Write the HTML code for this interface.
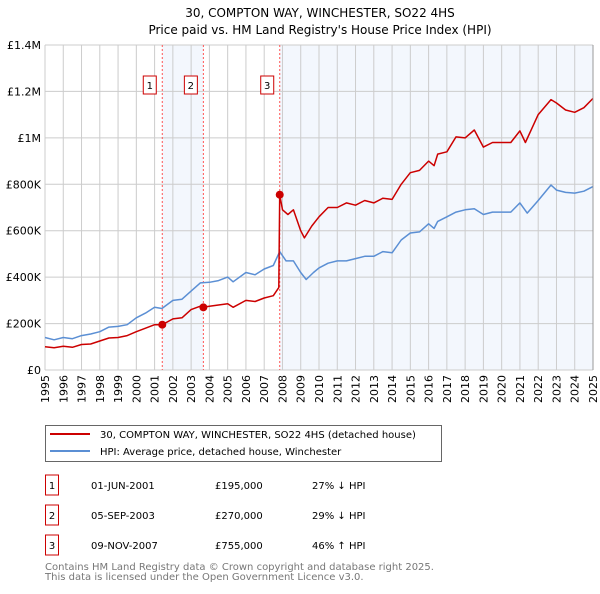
<!DOCTYPE html>
<html><head><meta charset="utf-8"><style>
body{margin:0;background:#fff;font-family:"DejaVu Sans","Liberation Sans",sans-serif;}
svg text{font-family:"DejaVu Sans","Liberation Sans",sans-serif;}
</style></head><body>
<svg id="c" width="600" height="590" xmlns="http://www.w3.org/2000/svg">
<text x="320" y="17" text-anchor="middle" font-size="12" fill="#000">30, COMPTON WAY, WINCHESTER, SO22 4HS</text>
<text x="320" y="34" text-anchor="middle" font-size="12" fill="#000">Price paid vs. HM Land Registry's House Price Index (HPI)</text>
<g id="plot"></g>
<g>
<rect x="45.5" y="425.5" width="396" height="36" fill="#fff" stroke="#666"/>
<line x1="50" y1="434" x2="90" y2="434" stroke="#cc0000" stroke-width="2"/>
<text x="100" y="438" font-size="10">30, COMPTON WAY, WINCHESTER, SO22 4HS (detached house)</text>
<line x1="50" y1="451" x2="90" y2="451" stroke="#5b8fd4" stroke-width="2"/>
<text x="100" y="455" font-size="10">HPI: Average price, detached house, Winchester</text>
</g>
<g id="table" font-size="10"></g>
<text x="45" y="570" font-size="10" fill="#777">Contains HM Land Registry data © Crown copyright and database right 2025.</text>
<text x="45" y="580" font-size="10" fill="#777">This data is licensed under the Open Government Licence v3.0.</text>
</svg>
<script>
const hpiDates=[1995,1995.5,1996,1996.5,1997,1997.5,1998,1998.5,1999,1999.5,2000,2000.5,2001,2001.4,2002,2002.5,2003,2003.5,2004,2004.5,2005,2005.3,2006,2006.5,2007,2007.5,2007.85,2008.2,2008.6,2009,2009.3,2009.7,2010,2010.5,2011,2011.5,2012,2012.5,2013,2013.5,2014,2014.5,2015,2015.5,2016,2016.3,2016.5,2017,2017.5,2018,2018.5,2019,2019.5,2020,2020.5,2021,2021.4,2022,2022.7,2023,2023.5,2024,2024.5,2025];
const hpiValues=[140,130,140,135,148,155,165,185,188,195,225,245,270,265,300,305,340,375,378,385,400,380,420,410,435,450,510,470,470,420,390,420,440,460,470,470,480,490,490,510,505,560,590,595,630,610,640,660,680,690,695,670,680,680,680,720,676,730,797,775,765,762,770,790];
const redDates=[1995,1995.5,1996,1996.5,1997,1997.5,1998,1998.5,1999,1999.5,2000,2000.5,2001,2001.42,2002,2002.5,2003,2003.5,2003.67,2004,2004.5,2005,2005.3,2006,2006.5,2007,2007.5,2007.8,2007.85,2008,2008.3,2008.6,2009,2009.2,2009.6,2010,2010.5,2011,2011.5,2012,2012.5,2013,2013.5,2014,2014.5,2015,2015.5,2016,2016.3,2016.5,2017,2017.5,2018,2018.5,2019,2019.5,2020,2020.5,2021,2021.3,2022,2022.7,2023,2023.5,2024,2024.5,2025];
const redValues=[100,96,102,98,110,112,125,138,140,148,165,180,195,195,220,225,260,275,270,275,280,285,270,300,295,310,320,355,755,690,670,690,600,569,620,660,700,700,720,710,730,720,740,735,800,850,860,900,880,930,940,1004,1000,1034,960,980,980,980,1030,980,1100,1165,1150,1120,1110,1130,1170];
const saleDates=[2001.42,2003.67,2007.85];
const saleValues=[195,270,755];
const saleLabels=["1","2","3"];
const saleDateText=["01-JUN-2001","05-SEP-2003","09-NOV-2007"];
const salePriceText=["£195,000","£270,000","£755,000"];
const saleHpiText=["27% ↓ HPI","29% ↓ HPI","46% ↑ HPI"];
const yTicks=[0,200,400,600,800,1000,1200,1400];
const yTickLabels=["£0","£200K","£400K","£600K","£800K","£1M","£1.2M","£1.4M"];
const years=[];for(let y=1995;y<=2025;y++)years.push(y);

const X0=45,X1=593,Y0=370,Y1=45;
const xs=t=>X0+(t-1995)/30*(X1-X0);
const ys=v=>Y0-v/1400*(Y0-Y1);
const NS="http://www.w3.org/2000/svg";
const plot=document.getElementById('plot');
function mk(tag,attrs,parent){const e=document.createElementNS(NS,tag);for(const k in attrs)e.setAttribute(k,attrs[k]);(parent||plot).appendChild(e);return e;}

// shading
let s=mk('rect',{x:xs(saleDates[0]),y:Y1,width:xs(saleDates[1])-xs(saleDates[0]),height:Y0-Y1,fill:'#eef3fc',opacity:0.7});


s=mk('rect',{x:xs(saleDates[2]),y:Y1,width:X1-xs(saleDates[2]),height:Y0-Y1,fill:'#eef3fc',opacity:0.7});


// grid
years.forEach(y=>{const l=mk('line',{x1:xs(y),x2:xs(y),y1:Y1,y2:Y0,stroke:'#cccccc','stroke-width':1});


const t=mk('text',{x:0,y:0,'font-size':11,'text-anchor':'end',transform:`translate(${xs(y)+4},${Y0+5}) rotate(-90)`});t.textContent=y;

});
yTicks.forEach((v,i)=>{const l=mk('line',{x1:X0,x2:X1,y1:ys(v),y2:ys(v),stroke:'#cccccc','stroke-width':1});


const t=mk('text',{x:X0-4,y:ys(v)+4,'font-size':11,'text-anchor':'end'});t.textContent=yTickLabels[i];

});
// sale lines
saleDates.forEach((d,i)=>{const l=mk('line',{x1:xs(d),x2:xs(d),y1:Y1,y2:Y0,stroke:'#ff5555','stroke-width':1,'stroke-dasharray':'2,2'});


const g=mk('g',{});


mk('rect',{x:xs(d)-19,y:76,width:13,height:18,fill:'#fff',stroke:'#cc0000'},g);
const t=mk('text',{x:xs(d)-12.5,y:89,'font-size':10,'text-anchor':'middle'},g);t.textContent=saleLabels[i];});
function path(dates,vals,col,name){const d=dates.map((t,i)=>(i?'L':'M')+xs(t).toFixed(1)+','+ys(vals[i]).toFixed(1)).join('');
const p=mk('path',{d:d,fill:'none',stroke:col,'stroke-width':1.5,'stroke-linejoin':'round'});

}
path(hpiDates,hpiValues,'#5b8fd4','hpi-line');
path(redDates,redValues,'#cc0000','price-paid-line');
saleDates.forEach((d,i)=>{const c=mk('circle',{cx:xs(d),cy:ys(saleValues[i]),r:4,fill:'#cc0000'});

});
mk('line',{x1:X1,x2:X1,y1:Y1,y2:Y0,stroke:'#999'});
// table
const tb=document.getElementById('table');
saleLabels.forEach((l,i)=>{const y=484+i*30;
const g=mk('g',{},tb);


mk('rect',{x:45.5,y:y-9,width:13,height:20,fill:'#fff',stroke:'#cc0000'},g);
let t=mk('text',{x:52,y:y+5,'text-anchor':'middle'},g);t.textContent=l;
t=mk('text',{x:91,y:y+5},g);t.textContent=saleDateText[i];
t=mk('text',{x:215,y:y+5},g);t.textContent=salePriceText[i];
t=mk('text',{x:312,y:y+5},g);t.textContent=saleHpiText[i];});
</script>
</body></html>
